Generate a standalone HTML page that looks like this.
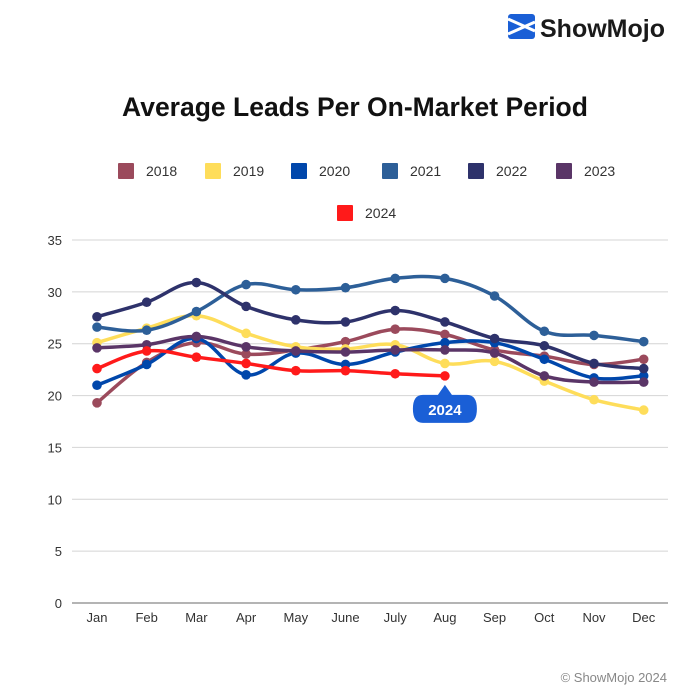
<!DOCTYPE html>
<html><head><meta charset="utf-8">
<style>
html,body{margin:0;padding:0;background:#fff;}
body{width:700px;height:698px;overflow:hidden;font-family:"Liberation Sans",sans-serif;}
svg{display:block}
</style></head>
<body>
<svg id="chart" width="700" height="698" xmlns="http://www.w3.org/2000/svg">
  <g>
    <rect x="508" y="14" width="27" height="25" rx="3" fill="#1a5fd6"/>
    <path d="M508 19 L535 31 M508 34 L535 22" stroke="#fff" stroke-width="3"/>
    <text x="540" y="37" font-size="25" font-weight="bold" fill="#1a1a1a">ShowMojo</text>
  </g>
  <text x="355" y="116" text-anchor="middle" font-size="26.5" font-weight="bold" fill="#111">Average Leads Per On-Market Period</text>
  <g id="legend"></g>
  <g id="grid"></g>
  <g id="series"></g>
  <g id="xaxis"></g>
  <g id="callout"></g>
  <text x="667" y="682" text-anchor="end" font-size="13" fill="#888">© ShowMojo 2024</text>
</svg>
<script>
const months = ["Jan","Feb","Mar","Apr","May","June","July","Aug","Sep","Oct","Nov","Dec"];
const yTicks = [0,5,10,15,20,25,30,35];
const years = ["2018","2019","2020","2021","2022","2023","2024"];
const colors = ["#9b4a5c","#fedd5a","#0047ab","#2d5f98","#2e326b","#5a3567","#ff1a1a"];
const s2018 = [19.3,23.2,25.1,24.0,24.4,25.2,26.4,25.9,24.4,23.8,23.0,23.5];
const s2019 = [25.1,26.5,27.7,26.0,24.7,24.5,24.9,23.1,23.3,21.4,19.6,18.6];
const s2020 = [21.0,23.0,25.5,22.0,24.1,23.0,24.2,25.1,25.1,23.5,21.7,21.9];
const s2021 = [26.6,26.3,28.1,30.7,30.2,30.4,31.3,31.3,29.6,26.2,25.8,25.2];
const s2022 = [27.6,29.0,30.9,28.6,27.3,27.1,28.2,27.1,25.5,24.8,23.1,22.6];
const s2023 = [24.6,24.9,25.7,24.7,24.3,24.2,24.4,24.4,24.1,21.9,21.3,21.3];
const s2024 = [22.6,24.3,23.7,23.1,22.4,22.4,22.1,21.9];
const allSeries = [s2018,s2019,s2020,s2021,s2022,s2023,s2024];

const NS="http://www.w3.org/2000/svg";
const X0=97, XSTEP=49.7, Y0=603, YTOP=240, YMAX=35;
const xs = i => X0 + i*XSTEP;
const ys = v => Y0 - v/YMAX*(Y0-YTOP);
function mk(tag, attrs, parent){const e=document.createElementNS(NS,tag);for(const k in attrs)e.setAttribute(k,attrs[k]);parent.appendChild(e);return e;}

const grid=document.getElementById('grid');
yTicks.forEach(t=>{
  const l=mk('line',{x1:72,x2:668,y1:ys(t),y2:ys(t),stroke:t===0?'#888':'#d4d4d4','stroke-width':t===0?1.3:1},grid);
  
  
  const tx=mk('text',{x:62,y:ys(t)+5,'text-anchor':'end','font-size':13,fill:'#333'},grid);
  tx.textContent=t;
  
  
});
const xa=document.getElementById('xaxis');
months.forEach((m,i)=>{
  const tx=mk('text',{x:xs(i),y:622,'text-anchor':'middle','font-size':13,fill:'#333'},xa);
  tx.textContent=m;
  
  
});

function smoothPath(pts){
  let d='M'+pts[0][0]+','+pts[0][1];
  const t=0.18;
  for(let i=0;i<pts.length-1;i++){
    const p0=pts[i-1]||pts[i],p1=pts[i],p2=pts[i+1],p3=pts[i+2]||p2;
    const c1=[p1[0]+(p2[0]-p0[0])*t, p1[1]+(p2[1]-p0[1])*t];
    const c2=[p2[0]-(p3[0]-p1[0])*t, p2[1]-(p3[1]-p1[1])*t];
    d+=' C'+c1[0]+','+c1[1]+' '+c2[0]+','+c2[1]+' '+p2[0]+','+p2[1];
  }
  return d;
}
const sg=document.getElementById('series');
allSeries.forEach((s,k)=>{
  const g=mk('g',{},sg);
  
  
  const pts=s.map((v,i)=>[xs(i),ys(v)]);
  const p=mk('path',{d:smoothPath(pts),fill:'none',stroke:colors[k],'stroke-width':3.5,'stroke-linejoin':'round','stroke-linecap':'round'},g);
  
  
  pts.forEach((pt,i)=>{
    const c=mk('circle',{cx:pt[0],cy:pt[1],r:4.8,fill:colors[k]},g);
    
    
  });
});

const lg=document.getElementById('legend');
const legX=[118,205,291,382,468,556];
years.forEach((y,k)=>{
  const x = k<6?legX[k]:337, yy = k<6?163:205;
  const g=mk('g',{},lg);
  
  
  mk('rect',{x:x,y:yy,width:16,height:16,fill:colors[k],rx:1},g);
  const t=mk('text',{x:x+28,y:yy+13,'font-size':14,fill:'#333'},g);
  t.textContent=y;
});

const co=document.getElementById('callout');
const cx=xs(7), cy=ys(s2024[7]);
mk('path',{d:`M${cx} ${cy+9} L${cx+7} ${cy+19} L${cx+22} ${cy+19} Q${cx+32} ${cy+19} ${cx+32} ${cy+33} Q${cx+32} ${cy+47} ${cx+22} ${cy+47} L${cx-22} ${cy+47} Q${cx-32} ${cy+47} ${cx-32} ${cy+33} Q${cx-32} ${cy+19} ${cx-22} ${cy+19} L${cx-7} ${cy+19} Z`,fill:'#1a5fd6'},co);
const ct=mk('text',{x:cx,y:cy+39,'text-anchor':'middle','font-size':15,'font-weight':'bold',fill:'#fff'},co);
ct.textContent='2024';
</script>
</body></html>
